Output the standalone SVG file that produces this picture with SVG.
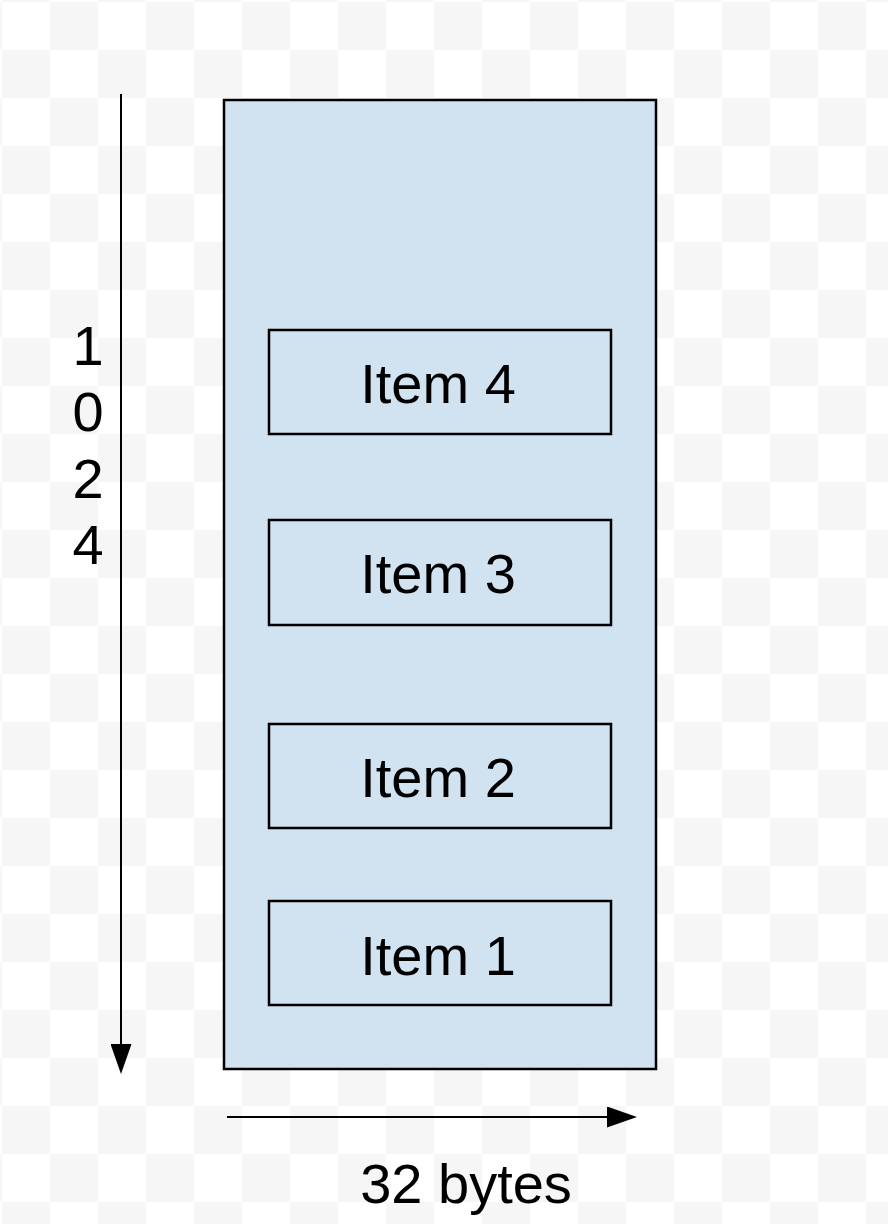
<svg xmlns="http://www.w3.org/2000/svg" width="888" height="1224" viewBox="0 0 888 1224">
  <style>
    .box { fill: #d1e2f1; stroke: #000; stroke-width: 2.5; }
    .lbl { font-family: "Liberation Sans", Arial, sans-serif; font-size: 56px; fill: #000; text-anchor: middle; }
    .conn { stroke: #000; stroke-width: 2; fill: none; }
  </style>
  <defs>
    <pattern id="checker" patternUnits="userSpaceOnUse" x="2" y="2" width="96" height="96">
      <rect width="96" height="96" fill="#ffffff"/>
      <rect x="48" y="0" width="48" height="48" fill="#f6f6f6"/>
      <rect x="0" y="48" width="48" height="48" fill="#f6f6f6"/>
    </pattern>
    <marker id="arrow" viewBox="0 0 30 21" refX="20" refY="10.5" markerWidth="30" markerHeight="21" markerUnits="userSpaceOnUse" orient="auto">
      <path d="M0,0 L30,10.5 L0,21 z" fill="#000"/>
    </marker>
  </defs>
  <rect width="888" height="1224" fill="url(#checker)"/>

  <g id="memory">
    <rect class="box" x="224" y="100" width="432" height="969"/>
  </g>
  <g id="item4">
    <rect class="box" x="269" y="330" width="342" height="104"/>
    <text class="lbl" x="438" y="403">Item 4</text>
  </g>
  <g id="item3">
    <rect class="box" x="269" y="520" width="342" height="105"/>
    <text class="lbl" x="438" y="593">Item 3</text>
  </g>
  <g id="item2">
    <rect class="box" x="269" y="724" width="342" height="104"/>
    <text class="lbl" x="438" y="797">Item 2</text>
  </g>
  <g id="item1">
    <rect class="box" x="269" y="901" width="342" height="104"/>
    <text class="lbl" x="438" y="975">Item 1</text>
  </g>

  <g id="connectors">
    <line class="conn" x1="121" y1="94" x2="121" y2="1064" marker-end="url(#arrow)"/>
    <line class="conn" x1="227" y1="1117" x2="627" y2="1117" marker-end="url(#arrow)"/>
  </g>

  <g id="height-label">
    <text class="lbl" x="88" y="365">1</text>
    <text class="lbl" x="88" y="431">0</text>
    <text class="lbl" x="88" y="498">2</text>
    <text class="lbl" x="88" y="564">4</text>
  </g>
  <g id="width-label">
    <text class="lbl" x="466" y="1203">32 bytes</text>
  </g>
</svg>
